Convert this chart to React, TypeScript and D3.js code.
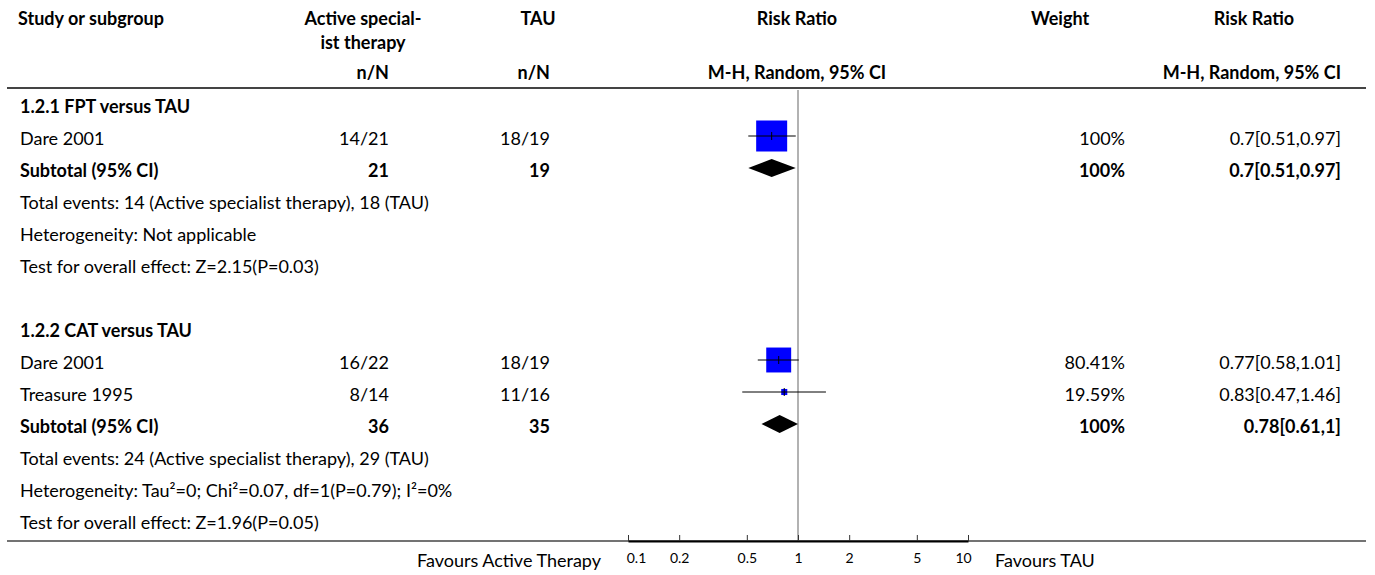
import React, { useRef, useEffect } from 'react';
import * as d3 from 'd3';

// forest plot data
const groupTitles = ['1.2.1 FPT versus TAU', '1.2.2 CAT versus TAU'];
const studyNames = ['Dare 2001', 'Dare 2001', 'Treasure 1995'];
const studyGroup = [0, 1, 1];
const activeNN = ['14/21', '16/22', '8/14'];
const tauNN = ['18/19', '18/19', '11/16'];
const studyRR = [0.7, 0.77, 0.83];
const studyLo = [0.51, 0.58, 0.47];
const studyHi = [0.97, 1.01, 1.46];
const studyWeight = [100, 80.41, 19.59];
const studyWeightLabel = ['100%', '80.41%', '19.59%'];
const studyRRLabel = ['0.7[0.51,0.97]', '0.77[0.58,1.01]', '0.83[0.47,1.46]'];

const activeTotal = ['21', '36'];
const tauTotal = ['19', '35'];
const subRR = [0.7, 0.78];
const subLo = [0.51, 0.61];
const subHi = [0.97, 1];
const subWeightLabel = ['100%', '100%'];
const subRRLabel = ['0.7[0.51,0.97]', '0.78[0.61,1]'];
const totalEvents = [
  'Total events: 14 (Active specialist therapy), 18 (TAU)',
  'Total events: 24 (Active specialist therapy), 29 (TAU)',
];
const heterogeneity = [
  'Heterogeneity: Not applicable',
  'Heterogeneity: Tau\u00b2=0; Chi\u00b2=0.07, df=1(P=0.79); I\u00b2=0%',
];
const overallEffect = [
  'Test for overall effect: Z=2.15(P=0.03)',
  'Test for overall effect: Z=1.96(P=0.05)',
];
const tickValues = [0.1, 0.2, 0.5, 1, 2, 5, 10];
const favoursLeft = 'Favours Active Therapy';
const favoursRight = 'Favours TAU';

const W = 1375;
const H = 575;
const FONT = 'Lato, "Noto Sans", sans-serif';

const App = () => {
  const ref = useRef<SVGSVGElement>(null);

  useEffect(() => {
    const svg = d3.select(ref.current);
    svg.selectAll('*').remove();

    const x = d3.scaleLog().domain([0.1, 10]).range([628, 968]);
    const rowY = (k: number) => 104 + 32 * k;
    const colName = 20;
    const colActive = 389;
    const colTau = 550;
    const colWeight = 1125;
    const colRR = 1341;

    // yy is the vertical centre of the row, baseline sits a bit below
    const txt = (
      s: string,
      xx: number,
      yy: number,
      anchor = 'start',
      bold = false,
      size = 18
    ) =>
      svg
        .append('text')
        .attr('x', xx)
        .attr('y', yy + 9)
        .attr('text-anchor', anchor)
        .attr('font-family', FONT)
        .attr('font-size', size)
        .attr('font-weight', bold ? 700 : 400)
        .attr('fill', '#000')
        .text(s);

    // headers
    txt('Study or subgroup', 18, 16, 'start', true);
    txt('Active special-', 363, 16, 'middle', true);
    txt('ist therapy', 363, 40, 'middle', true);
    txt('TAU', 538, 16, 'middle', true);
    txt('Risk Ratio', 797, 16, 'middle', true);
    txt('Weight', 1060, 16, 'middle', true);
    txt('Risk Ratio', 1254, 16, 'middle', true);
    txt('n/N', colActive, 70, 'end', true);
    txt('n/N', colTau, 70, 'end', true);
    txt('M-H, Random, 95% CI', 797, 70, 'middle', true);
    txt('M-H, Random, 95% CI', colRR, 70, 'end', true);

    svg
      .append('line')
      .attr('x1', 7)
      .attr('x2', 1366)
      .attr('y1', 88)
      .attr('y2', 88)
      .attr('stroke', '#444')
      .attr('stroke-width', 2);

    // null line
    svg
      .append('line')
      .attr('x1', x(1))
      .attr('x2', x(1))
      .attr('y1', 90)
      .attr('y2', 541)
      .attr('stroke', '#999')
      .attr('stroke-width', 1.5);

    const g = svg.append('g');

    let k = 0;
    groupTitles.forEach((title, gi) => {
      txt(title, colName, rowY(k), 'start', true);
      k++;
      studyNames.forEach((name, i) => {
        if (studyGroup[i] !== gi) return;
        const cy = rowY(k);
        txt(name, colName, cy);
        txt(activeNN[i], colActive, cy, 'end');
        txt(tauNN[i], colTau, cy, 'end');
        txt(studyWeightLabel[i], colWeight, cy, 'end');
        txt(studyRRLabel[i], colRR, cy, 'end');
        const side = Math.max(6, (31 * studyWeight[i]) / 100);
        g.append('rect')
          .attr('x', x(studyRR[i]) - side / 2)
          .attr('y', cy - side / 2)
          .attr('width', side)
          .attr('height', side)
          .attr('fill', '#0000ff');
        g.append('line')
          .attr('x1', x(studyLo[i]))
          .attr('x2', x(studyHi[i]))
          .attr('y1', cy)
          .attr('y2', cy)
          .attr('stroke', '#000')
          .attr('stroke-width', 1);
        g.append('line')
          .attr('x1', x(studyRR[i]))
          .attr('x2', x(studyRR[i]))
          .attr('y1', cy - 4)
          .attr('y2', cy + 4)
          .attr('stroke', '#000')
          .attr('stroke-width', 1);
        k++;
      });
      // subtotal
      const sy = rowY(k);
      txt('Subtotal (95% CI)', colName, sy, 'start', true);
      txt(activeTotal[gi], colActive, sy, 'end', true);
      txt(tauTotal[gi], colTau, sy, 'end', true);
      txt(subWeightLabel[gi], colWeight, sy, 'end', true);
      txt(subRRLabel[gi], colRR, sy, 'end', true);
      const dy = 9;
      g.append('path')
        .attr(
          'd',
          `M${x(subLo[gi])},${sy}L${x(subRR[gi])},${sy - dy}L${x(subHi[gi])},${sy}L${x(subRR[gi])},${sy + dy}Z`
        )
        .attr('fill', '#000');
      k++;
      txt(totalEvents[gi], colName, rowY(k));
      k++;
      txt(heterogeneity[gi], colName, rowY(k));
      k++;
      txt(overallEffect[gi], colName, rowY(k));
      k += 2;
    });

    // bottom line + axis
    svg
      .append('line')
      .attr('x1', 7)
      .attr('x2', 1366)
      .attr('y1', 541)
      .attr('y2', 541)
      .attr('stroke', '#444')
      .attr('stroke-width', 1.5);

    const axis = svg
      .append('g')
      .attr('transform', 'translate(0,541)')
      .call(
        d3
          .axisBottom(x)
          .tickValues(tickValues)
          .tickSizeInner(-6)
          .tickSizeOuter(0)
          .tickPadding(12)
          .tickFormat(d3.format('~g') as any)
      );
    axis.select('.domain').attr('stroke', '#000').attr('stroke-width', 2);
    axis.selectAll('.tick line').attr('stroke', '#333');
    axis
      .selectAll('text')
      .attr('font-family', FONT)
      .attr('font-size', 14)
      .attr('fill', '#000')
      // end labels are pulled inside the axis range
      .attr('dx', (d: any) => (d === 0.1 ? 8 : d === 10 ? -5 : 0));

    txt(favoursLeft, 601, 558, 'end');
    txt(favoursRight, 995, 558, 'start');
  }, []);

  return (
    <svg
      ref={ref}
      width={W}
      height={H}
      style={{ position: 'absolute', left: 0, top: 0, background: '#fff' }}
    />
  );
};

export default App;
